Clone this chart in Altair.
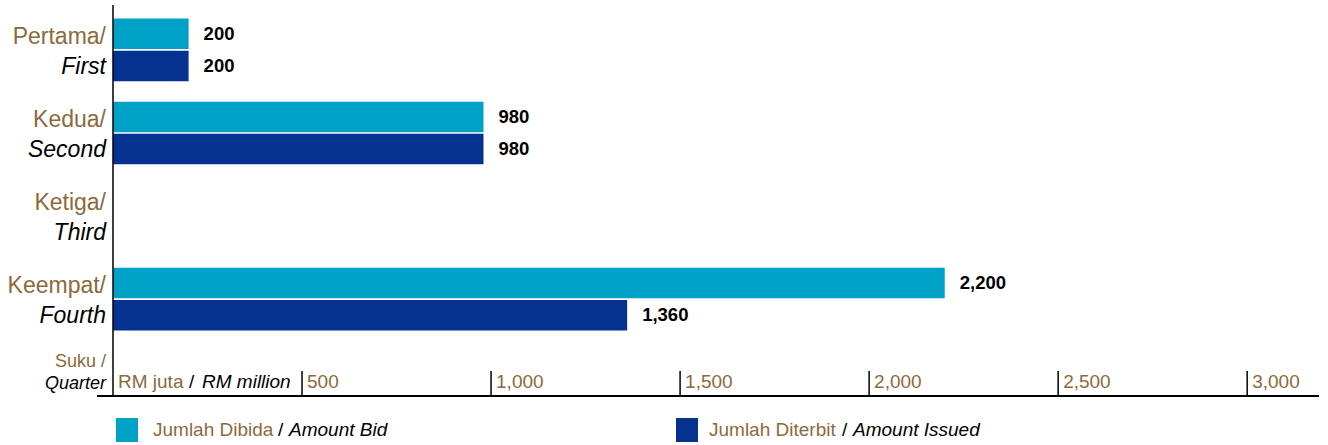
import altair as alt
import pandas as pd

# ---- data ----
quarters_ms = ["Pertama/", "Kedua/", "Ketiga/", "Keempat/"]
quarters_en = ["First", "Second", "Third", "Fourth"]
amount_bid = [200, 980, None, 2200]
amount_issued = [200, 980, None, 1360]
series_keys = ["Bid", "Issued"]
tick_values = [500, 1000, 1500, 2000, 2500, 3000]
tick_labels = ["500", "1,000", "1,500", "2,000", "2,500", "3,000"]

LIGHT = "#00A1C6"
DARK = "#053190"
BROWN = "#8C6A3C"
FONT = "Liberation Sans"

W, H = 1206, 391

rows = []
for q, b, i in zip(quarters_ms, amount_bid, amount_issued):
    if b is not None:
        rows.append({"quarter": q, "series": "Bid", "value": b})
    if i is not None:
        rows.append({"quarter": q, "series": "Issued", "value": i})
bars_df = pd.DataFrame(rows)
bars_df["label"] = bars_df["value"].map(lambda v: f"{v:,.0f}")

labels_df = pd.DataFrame({"quarter": quarters_ms, "en": quarters_en})
ticks_df = pd.DataFrame({"value": tick_values, "label": tick_labels})
one = pd.DataFrame({"a": [0]})

xscale = alt.Scale(domain=[0, 3190], nice=False, zero=True)
yscale = alt.Scale(domain=quarters_ms, range=[0, 339], paddingInner=0.246, paddingOuter=0.163)
yoff = alt.YOffset("series:N", scale=alt.Scale(domain=series_keys, paddingInner=0.05))

bars = alt.Chart(bars_df).mark_bar().encode(
    x=alt.X("value:Q", scale=xscale, axis=None),
    y=alt.Y("quarter:N", scale=yscale, axis=None, sort=quarters_ms),
    yOffset=yoff,
    color=alt.Color("series:N", scale=alt.Scale(domain=series_keys, range=[LIGHT, DARK]), legend=None),
)

values = alt.Chart(bars_df).mark_text(
    align="left", baseline="middle", dx=15, font=FONT, fontSize=18.5, fontWeight="bold", color="black"
).encode(
    x=alt.X("value:Q", scale=xscale, axis=None),
    y=alt.Y("quarter:N", scale=yscale, axis=None, sort=quarters_ms),
    yOffset=yoff,
    text="label:N",
)

ylab_ms = alt.Chart(labels_df).mark_text(
    align="right", baseline="middle", dy=-13, font=FONT, fontSize=23, color=BROWN
).encode(
    x=alt.value(-7),
    y=alt.Y("quarter:N", scale=yscale, axis=None, sort=quarters_ms),
    text="quarter:N",
)
ylab_en = alt.Chart(labels_df).mark_text(
    align="right", baseline="middle", dy=17, font=FONT, fontSize=23, fontStyle="italic", color="black"
).encode(
    x=alt.value(-7),
    y=alt.Y("quarter:N", scale=yscale, axis=None, sort=quarters_ms),
    text="en:N",
)

tick_rules = alt.Chart(ticks_df).mark_rule(color="black", strokeWidth=1.5).encode(
    x=alt.X("value:Q", scale=xscale, axis=None),
    y=alt.value(366),
    y2=alt.value(391),
)
tick_text = alt.Chart(ticks_df).mark_text(
    align="left", baseline="alphabetic", dx=5, font=FONT, fontSize=19, color=BROWN
).encode(
    x=alt.X("value:Q", scale=xscale, axis=None),
    y=alt.value(383),
    text="label:N",
)

def txt(s, x, y, color="black", italic=False, size=18, align="left", baseline="alphabetic"):
    kw = dict(align=align, baseline=baseline, font=FONT, fontSize=size, color=color)
    if italic:
        kw["fontStyle"] = "italic"
    return alt.Chart(one).mark_text(**kw).encode(x=alt.value(x), y=alt.value(y), text=alt.value(s))

unit1 = txt("RM juta", 5, 383, BROWN, size=19)
unit2 = txt("/", 76, 383, "black", size=19)
unit3 = txt("RM million", 89, 383, "black", italic=True, size=19)

suku1 = txt("Suku /", -7, 357, BROWN, size=18, align="right", baseline="middle")
suku2 = txt("Quarter", -7, 379, "black", italic=True, size=18, align="right", baseline="middle")

yaxis = alt.Chart(one).mark_rule(color="black", strokeWidth=1.5).encode(
    x=alt.value(0), y=alt.value(0), y2=alt.value(H)
)
xaxis = alt.Chart(one).mark_rule(color="black", strokeWidth=2).encode(
    x=alt.value(-16), x2=alt.value(W), y=alt.value(H)
)

def swatch(x, color):
    return alt.Chart(one).mark_rect(color=color).encode(
        x=alt.value(x), x2=alt.value(x + 22), y=alt.value(413), y2=alt.value(437)
    )

leg = [
    swatch(3, LIGHT),
    txt("Jumlah Dibida", 40, 425, BROWN, size=19, baseline="middle"),
    txt("/", 165, 425, "black", size=19, baseline="middle"),
    txt("Amount Bid", 176, 425, "black", italic=True, size=19, baseline="middle"),
    swatch(563, DARK),
    txt("Jumlah Diterbit", 596, 425, BROWN, size=19, baseline="middle"),
    txt("/", 729, 425, "black", size=19, baseline="middle"),
    txt("Amount Issued", 740, 425, "black", italic=True, size=19, baseline="middle"),
]

chart = alt.layer(
    bars, values, ylab_ms, ylab_en, tick_rules, tick_text,
    unit1, unit2, unit3, suku1, suku2, yaxis, xaxis, *leg
).properties(
    width=W, height=H,
    autosize=alt.AutoSizeParams(type="none"),
    padding={"left": 113, "top": 5, "right": 9, "bottom": 49},
).configure_view(stroke=None)

chart.save("out.html", embed_options={"renderer": "svg", "actions": False})
